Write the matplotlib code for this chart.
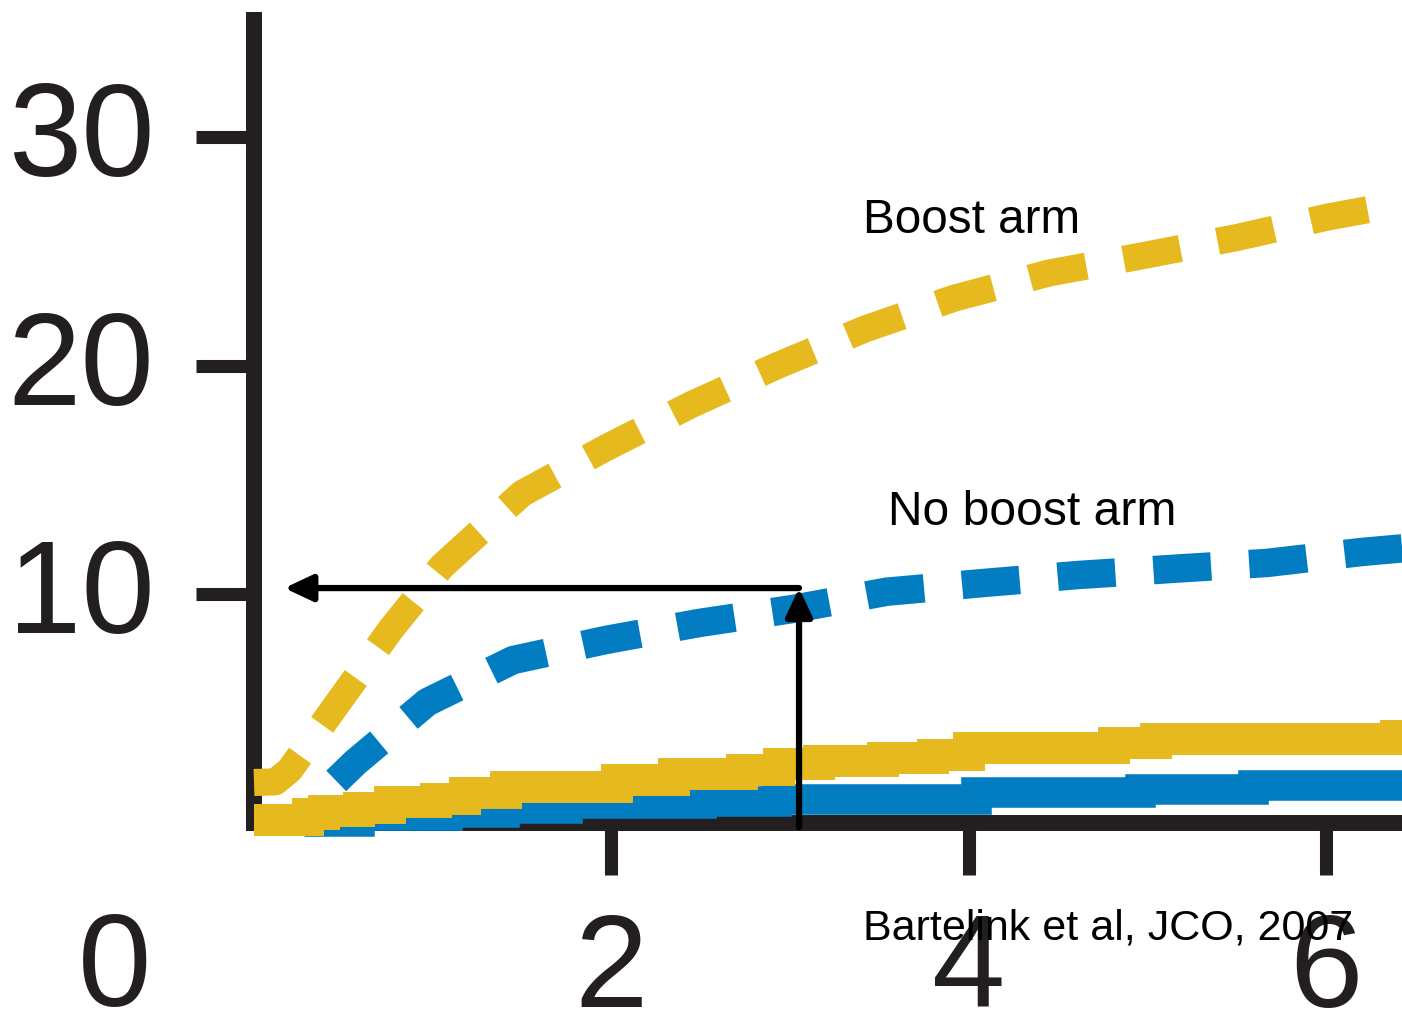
# Local recurrence curves, boost vs no boost (Bartelink et al, JCO 2007)
# Dashed = one arm of curves, solid = the other, arrows mark the 10 % level

import matplotlib.pyplot as plt
import matplotlib.transforms as mtransforms

YELLOW = '#E6B91E'
BLUE = '#027DC2'
AXIS_COLOR = '#231F20'

# dashed curves (years, %)
boost_dash_x = [0, 0.12, 0.20, 0.47, 0.77, 1.05, 1.50, 1.97, 2.45, 2.93, 3.42, 3.92, 4.45, 4.97, 5.50, 6.01, 6.43]
boost_dash_y = [1.75, 1.78, 2.3, 5.24, 8.5, 11.2, 14.4, 16.4, 18.3, 20.0, 21.6, 22.95, 24.05, 24.8, 25.6, 26.5, 27.1]

noboost_dash_x = [0.46, 0.57, 0.97, 1.45, 1.97, 2.49, 3.02, 3.54, 4.08, 4.61, 5.14, 5.67, 6.20, 6.43]
noboost_dash_y = [1.82, 2.65, 5.27, 7.11, 7.99, 8.73, 9.35, 10.1, 10.48, 10.83, 11.1, 11.36, 11.84, 12.0]

# solid step curves
boost_solid_x = [0, 0.30, 0.39, 0.59, 0.76, 1.02, 1.18, 1.41, 2.03, 2.35, 2.73, 2.94, 3.16, 3.52, 3.80, 4.00, 4.81, 5.05, 6.39, 6.43]
boost_solid_y = [0.13, 0.37, 0.50, 0.63, 0.90, 1.03, 1.29, 1.55, 1.86, 2.12, 2.30, 2.56, 2.69, 2.82, 2.95, 3.26, 3.48, 3.65, 3.79, 3.79]

noboost_solid_x = [0.28, 0.59, 1.08, 1.40, 1.75, 2.50, 2.92, 4.04, 4.96, 5.59, 6.43]
noboost_solid_y = [0.07, 0.33, 0.46, 0.63, 0.86, 0.96, 1.05, 1.34, 1.46, 1.64, 1.64]

x_ticks = [2, 4, 6]
y_ticks = [10, 20, 30]

# arrow marking ~10 % at 3 years
arrow_x = 3.05
arrow_y = 10.26
arrow_left = 0.17
arrow_bottom = -0.2

fig = plt.figure(figsize=(14.02, 10.16), dpi=100)
plt.rcParams['font.family'] = ['Liberation Sans', 'DejaVu Sans']

ax = fig.add_axes([254 / 1402, (1016 - 822.5) / 1016, (1402 - 254) / 1402, (822.5 - 20) / 1016])
ax.set_xlim(0, (1402 - 254) / 178.7)
ax.set_ylim(0, (822.5 - 20) / 22.85)

for side in ['top', 'right']:
    ax.spines[side].set_visible(False)
for side in ['left', 'bottom']:
    ax.spines[side].set_linewidth(11.5)
    ax.spines[side].set_color(AXIS_COLOR)
    ax.spines[side].set_capstyle('projecting')
    ax.spines[side].set_zorder(1)

ax.set_xticks(x_ticks)
ax.set_xticklabels([str(t) for t in x_ticks])
ax.set_yticks(y_ticks)
ax.set_yticklabels([str(t) for t in y_ticks])
ax.tick_params(axis='y', direction='out', length=41.8, width=9.4, pad=30,
               labelsize=95, color=AXIS_COLOR, labelcolor=AXIS_COLOR)
ax.tick_params(axis='x', direction='out', length=37.4, width=9.4, pad=26,
               labelsize=95, color=AXIS_COLOR, labelcolor=AXIS_COLOR)

# y labels sit a little above their ticks in the original
lift = mtransforms.ScaledTranslation(0, 0.09, fig.dpi_scale_trans)
for lab in ax.get_yticklabels():
    lab.set_transform(lab.get_transform() + lift)

# solid curves
ax.step(noboost_solid_x, noboost_solid_y, where='post', color=BLUE, lw=22,
        solid_joinstyle='miter', solid_capstyle='butt', clip_on=False, zorder=3)
ax.step(boost_solid_x, boost_solid_y, where='post', color=YELLOW, lw=23,
        solid_joinstyle='miter', solid_capstyle='butt', clip_on=False, zorder=4)

# dashed curves
ax.plot(noboost_dash_x, noboost_dash_y, color=BLUE, lw=20.5, linestyle=(0, (2.03, 1.34)),
        dash_capstyle='butt', clip_on=False, zorder=3)
ax.plot(boost_dash_x, boost_dash_y, color=YELLOW, lw=19.5, linestyle=(0, (2.13, 1.40)),
        dash_capstyle='butt', clip_on=False, zorder=3)

# arrows
arrow_props = dict(arrowstyle='-|>,head_length=0.85,head_width=0.4', color='black',
                   lw=4.5, shrinkA=0, shrinkB=0, mutation_scale=20)
ax.annotate('', xy=(arrow_x, arrow_y), xytext=(arrow_x, arrow_bottom),
            arrowprops=arrow_props, zorder=6, annotation_clip=False)
ax.annotate('', xy=(arrow_left, arrow_y), xytext=(arrow_x, arrow_y),
            arrowprops=arrow_props, zorder=6, annotation_clip=False)

# labels
ax.text(3.41, 25.8, 'Boost arm', fontsize=34.3, va='baseline', ha='left', color='black', zorder=7)
ax.text(3.55, 13.0, 'No boost arm', fontsize=34.6, va='baseline', ha='left', color='black', zorder=7)
ax.text(3.41, -5.14, 'Bartelink et al, JCO, 2007', fontsize=31, va='baseline', ha='left',
        color='black', zorder=7)

# the lone "0" that sits in the bottom-left corner
fig.text(151 / 1402, (1016 - 1006) / 1016, '0', fontsize=95, ha='right', va='baseline',
         color=AXIS_COLOR)

fig.savefig('out.png', dpi=100)
